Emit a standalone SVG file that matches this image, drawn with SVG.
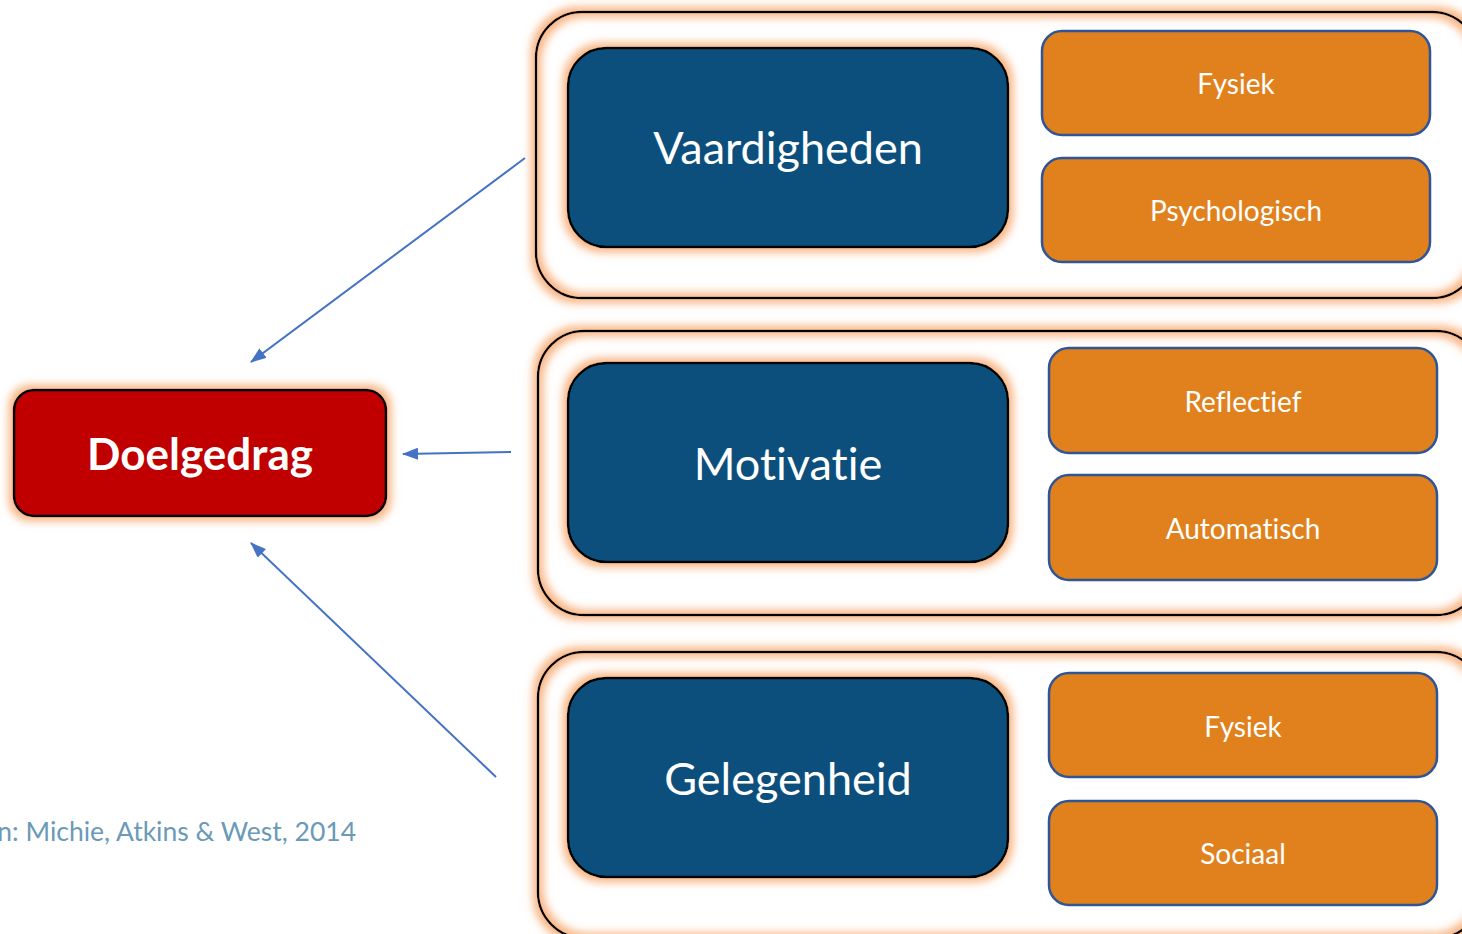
<svg xmlns="http://www.w3.org/2000/svg" width="1462" height="934" viewBox="0 0 1462 934">
<defs>
  <filter id="glow" x="-20%" y="-20%" width="140%" height="140%">
    <feMorphology in="SourceAlpha" operator="dilate" radius="4" result="d"/>
    <feGaussianBlur in="d" stdDeviation="4" result="b"/>
    <feFlood flood-color="#F8B482" flood-opacity="1"/>
    <feComposite in2="b" operator="in" result="g"/>
    <feMerge><feMergeNode in="g"/><feMergeNode in="SourceGraphic"/></feMerge>
  </filter>
  <marker id="arr" viewBox="0 0 16 12" refX="15" refY="6" markerWidth="16" markerHeight="12" markerUnits="userSpaceOnUse" orient="auto">
    <path d="M0,0 L16,6 L0,12 z" fill="#4472C4"/>
  </marker>
  <style>
    text{font-variant-ligatures:none;font-feature-settings:"liga" 0}
    .cont{fill:none;stroke:#000;stroke-width:2.5;filter:url(#glow)}
    .main{fill:#0A507C;stroke:#000;stroke-width:2.5;filter:url(#glow)}
    .sub{fill:#E0811D;stroke:#2F5597;stroke-width:2.5}
    .mt{font-family:Lato,"Open Sans",sans-serif;font-size:45px;fill:#fff;text-anchor:middle}
    .st{font-family:Lato,"Open Sans",sans-serif;font-size:28px;fill:#fff;text-anchor:middle}
    .conn{stroke:#4472C4;stroke-width:2;fill:none;marker-end:url(#arr)}
  </style>
</defs>
<rect width="1462" height="934" fill="#fff"/>

<g id="container-capability">
  <rect class="cont" x="536" y="12" width="942" height="286" rx="46"/>
</g>
<g id="container-motivation">
  <rect class="cont" x="538" y="331" width="944" height="284" rx="46"/>
</g>
<g id="container-opportunity">
  <rect class="cont" x="538" y="652" width="944" height="286" rx="46"/>
</g>

<g id="vaardigheden">
  <rect class="main" x="568" y="48" width="440" height="199" rx="38"/>
  <text class="mt" x="788" y="164">Vaardigheden</text>
</g>
<g id="motivatie">
  <rect class="main" x="568" y="363" width="440" height="199" rx="38"/>
  <text class="mt" x="788" y="480">Motivatie</text>
</g>
<g id="gelegenheid">
  <rect class="main" x="568" y="678" width="440" height="199" rx="38"/>
  <text class="mt" x="788" y="795">Gelegenheid</text>
</g>

<g id="fysiek-1">
  <rect class="sub" x="1042" y="31" width="388" height="104" rx="20"/>
  <text class="st" x="1236" y="94">Fysiek</text>
</g>
<g id="psychologisch">
  <rect class="sub" x="1042" y="158" width="388" height="104" rx="20"/>
  <text class="st" x="1236" y="221">Psychologisch</text>
</g>
<g id="reflectief">
  <rect class="sub" x="1049" y="348" width="388" height="105" rx="20"/>
  <text class="st" x="1243" y="412">Reflectief</text>
</g>
<g id="automatisch">
  <rect class="sub" x="1049" y="475" width="388" height="105" rx="20"/>
  <text class="st" x="1243" y="539">Automatisch</text>
</g>
<g id="fysiek-2">
  <rect class="sub" x="1049" y="673" width="388" height="104" rx="20"/>
  <text class="st" x="1243" y="737">Fysiek</text>
</g>
<g id="sociaal">
  <rect class="sub" x="1049" y="801" width="388" height="104" rx="20"/>
  <text class="st" x="1243" y="864">Sociaal</text>
</g>

<g id="doelgedrag">
  <rect x="14" y="390" width="372" height="126" rx="20" fill="#C00000" stroke="#000" stroke-width="2.5" filter="url(#glow)"/>
  <text x="200" y="470" font-family="Lato,'Open Sans',sans-serif" font-size="44" font-weight="bold" fill="#fff" text-anchor="middle">Doelgedrag</text>
</g>

<g id="connectors">
  <line class="conn" x1="525" y1="158" x2="251" y2="362"/>
  <line class="conn" x1="511" y1="452" x2="403" y2="454"/>
  <line class="conn" x1="496" y1="777" x2="251" y2="543"/>
</g>

<text x="356" y="841" font-family="Lato,'Open Sans',sans-serif" font-size="26.5" fill="#6A9AB8" text-anchor="end">n: Michie, Atkins &amp; West, 2014</text>
</svg>
